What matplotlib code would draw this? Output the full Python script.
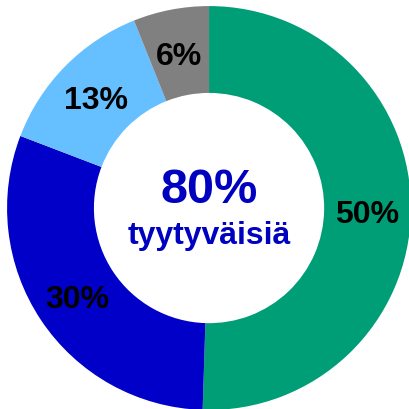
import matplotlib
matplotlib.use("Agg")
import matplotlib.pyplot as plt

labels = ["50%", "30%", "13%", "6%"]
values = [50, 30, 13, 6]
colors = ["#009E76", "#0000C8", "#66BFFF", "#808080"]
center_value = "80%"
center_text = "tyytyväisiä"

plt.rcParams["font.family"] = ["Liberation Sans", "DejaVu Sans"]

fig = plt.figure(figsize=(4.1, 4.1), dpi=100)
ax = fig.add_axes([0, 0, 1, 1])
wedges, texts = ax.pie(values, colors=colors, startangle=90, counterclock=False,
                       radius=1.0, labels=labels, labeldistance=0.785,
                       wedgeprops=dict(width=0.43, linewidth=0),
                       textprops=dict(fontsize=23, fontweight="bold", color="black",
                                      ha="center", va="center"))
# nudge labels down a little, va=center sits slightly high
for t in texts:
    x, y = t.get_position()
    t.set_position((x, y - 0.018))
ax.text(0, 0.09, center_value, ha="center", va="center", fontsize=35,
        fontweight="bold", color="#0000C0")
ax.text(0, -0.135, center_text, ha="center", va="center", fontsize=23,
        fontweight="bold", color="#0000C0")
ax.set_xlim(-1.035, 0.995)
ax.set_ylim(-0.995, 1.035)
ax.set_aspect("equal")
ax.axis("off")
fig.savefig("out.png", dpi=100)
